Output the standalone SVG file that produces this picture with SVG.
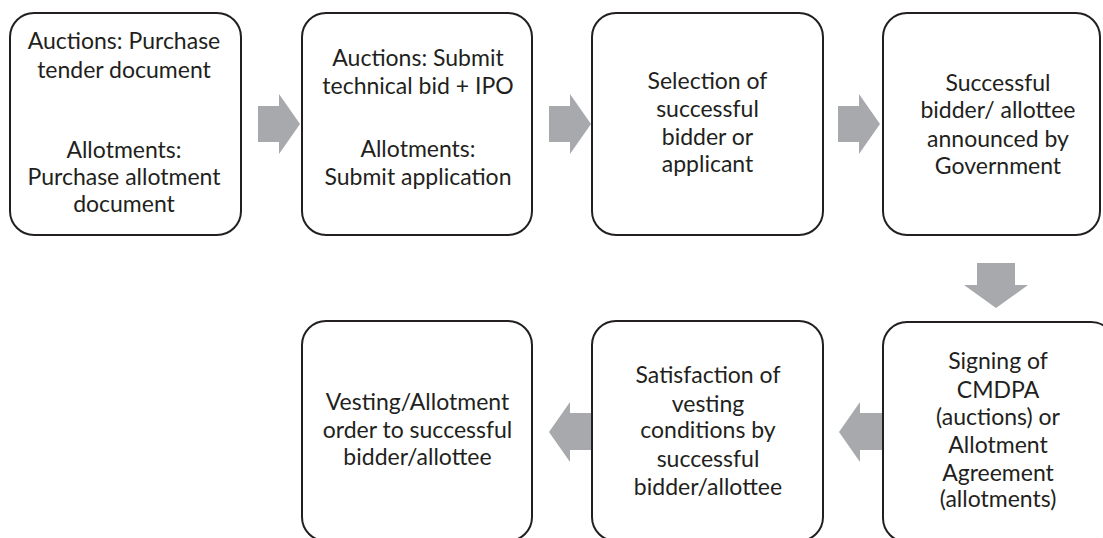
<svg xmlns="http://www.w3.org/2000/svg" width="1103" height="538" viewBox="0 0 1103 538">
  <style>
    .box { fill: #ffffff; stroke: #231f20; stroke-width: 2; }
    .arrow { fill: #a7a9ac; stroke: none; }
    text { font-family: Lato, "Liberation Sans", sans-serif; font-size: 23px; fill: #231f20; text-anchor: middle; }
  </style>
  <rect width="1103" height="538" fill="#ffffff"/>

  <!-- block arrows between the steps -->
  <g id="connectors">
    <polygon class="arrow" points="258,106 279,106 279,94 300,124 279,154 279,142 258,142"/>
    <polygon class="arrow" points="549,106 570,106 570,94 591,124 570,154 570,142 549,142"/>
    <polygon class="arrow" points="838,106 859,106 859,94 880,124 859,154 859,142 838,142"/>
    <polygon class="arrow" points="977,263 1015,263 1015,285 1028,285 996,308 964,285 977,285"/>
    <polygon class="arrow" points="882,413 860,413 860,402 839,432 860,462 860,450 882,450"/>
    <polygon class="arrow" points="592,413 570,413 570,402 549,432 570,462 570,450 592,450"/>
  </g>

  <g id="step1">
    <rect class="box" x="10" y="13" width="231" height="222" rx="24"/>
    <text x="124" y="49">Auctions: Purchase</text>
    <text x="124" y="78">tender document</text>
    <text x="124" y="158">Allotments:</text>
    <text x="124" y="185">Purchase allotment</text>
    <text x="124" y="212">document</text>
  </g>

  <g id="step2">
    <rect class="box" x="302" y="13" width="230" height="222" rx="24"/>
    <text x="418" y="66">Auctions: Submit</text>
    <text x="418" y="94">technical bid + IPO</text>
    <text x="418" y="157">Allotments:</text>
    <text x="418" y="185">Submit application</text>
  </g>

  <g id="step3">
    <rect class="box" x="592" y="13" width="231" height="222" rx="24"/>
    <text x="707.5" y="89">Selection of</text>
    <text x="707.5" y="117">successful</text>
    <text x="707.5" y="145">bidder or</text>
    <text x="707.5" y="172">applicant</text>
  </g>

  <g id="step4">
    <rect class="box" x="883" y="13" width="217" height="222" rx="24"/>
    <text x="998" y="91">Successful</text>
    <text x="998" y="118">bidder/ allottee</text>
    <text x="998" y="147">announced by</text>
    <text x="998" y="174">Government</text>
  </g>

  <g id="step5">
    <rect class="box" x="883" y="322" width="232" height="220" rx="24"/>
    <text x="998" y="369">Signing of</text>
    <text x="998" y="398">CMDPA</text>
    <text x="998" y="425">(auctions) or</text>
    <text x="998" y="453">Allotment</text>
    <text x="998" y="481">Agreement</text>
    <text x="998" y="507">(allotments)</text>
  </g>

  <g id="step6">
    <rect class="box" x="592" y="321" width="231" height="220" rx="24"/>
    <text x="708" y="383">Satisfaction of</text>
    <text x="708" y="412">vesting</text>
    <text x="708" y="438">conditions by</text>
    <text x="708" y="467">successful</text>
    <text x="708" y="495">bidder/allottee</text>
  </g>

  <g id="step7">
    <rect class="box" x="302" y="321" width="230" height="220" rx="24"/>
    <text x="417.5" y="410">Vesting/Allotment</text>
    <text x="417.5" y="438">order to successful</text>
    <text x="417.5" y="465">bidder/allottee</text>
  </g>
</svg>
